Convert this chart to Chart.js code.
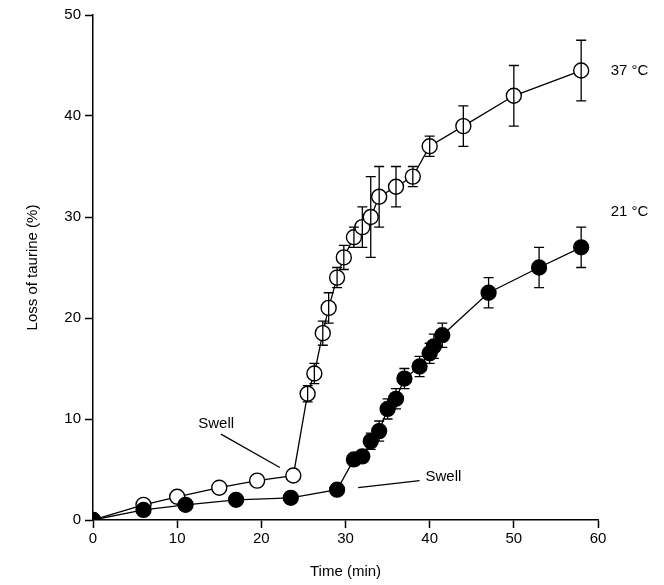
<!DOCTYPE html>
<html><head><meta charset="utf-8">
<script src="https://cdn.jsdelivr.net/npm/chart.js@4"></script>
<style>body{margin:0;background:#fff}#wrap{width:664px;height:585px}</style>
</head><body><div id="wrap"><canvas id="c" width="664" height="585"></canvas></div>
<script>
// data
const t37 = [0,6,10,15,19.5,23.8,25.5,26.3,27.3,28,29,29.8,31,32,33,34,36,38,40,44,50,58];
const v37 = [0,1.5,2.3,3.2,3.9,4.4,12.5,14.5,18.5,21,24,26,28,29,30,32,33,34,37,39,42,44.5];
const e37 = [0,0,0,0,0,0,0.8,1,1.2,1.5,1,1.2,1,2,4,3,2,1,1,2,3,3];
const t21 = [0,6,11,17,23.5,29,31,32,33,34,35,36,37,38.8,40,40.5,41.5,47,53,58];
const v21 = [0,1,1.5,2,2.2,3,6,6.3,7.8,8.8,11,12,14,15.2,16.5,17.2,18.3,22.5,25,27];
const e21 = [0,0,0,0,0,0,0,0,0.8,1,1,1,1,1,1,1.2,1.2,1.5,2,2];
const xTicks = [0,10,20,30,40,50,60];
const yTicks = [0,10,20,30,40,50];

const font = '"Liberation Sans", Arial, sans-serif';
const pts = (t,v) => t.map((x,i)=>({x, y:v[i]}));

const extras = {
  id:'extras',
  afterDatasetsDraw(chart){
    const {ctx, scales:{x,y}} = chart;
    ctx.save();
    ctx.strokeStyle='#000'; ctx.lineWidth=1.3;
    [[t37,v37,e37],[t21,v21,e21]].forEach(([t,v,e])=>{
      t.forEach((tt,i)=>{
        if(!e[i]) return;
        const px=x.getPixelForValue(tt), y1=y.getPixelForValue(v[i]+e[i]), y2=y.getPixelForValue(v[i]-e[i]);
        ctx.beginPath();
        ctx.moveTo(px,y1);ctx.lineTo(px,y2);
        ctx.moveTo(px-5,y1);ctx.lineTo(px+5,y1);
        ctx.moveTo(px-5,y2);ctx.lineTo(px+5,y2);
        ctx.stroke();
      });
    });
    // swell pointers
    ctx.beginPath();
    ctx.moveTo(x.getPixelForValue(15.2),y.getPixelForValue(8.5));
    ctx.lineTo(x.getPixelForValue(22.2),y.getPixelForValue(5.2));
    ctx.moveTo(x.getPixelForValue(31.5),y.getPixelForValue(3.2));
    ctx.lineTo(x.getPixelForValue(38.8),y.getPixelForValue(3.9));
    ctx.stroke();
    ctx.fillStyle='#000'; ctx.font='15px '+font; ctx.textBaseline='middle';
    ctx.fillText('Swell', x.getPixelForValue(12.5), y.getPixelForValue(9.5));
    ctx.fillText('Swell', x.getPixelForValue(39.5), y.getPixelForValue(4.3));
    ctx.fillText('37 °C', x.getPixelForValue(61.5), y.getPixelForValue(44.5));
    ctx.fillText('21 °C', x.getPixelForValue(61.5), y.getPixelForValue(30.5));
    ctx.restore();
  }
};

const gridOpts = {display:true, drawOnChartArea:false, drawTicks:true, tickLength:8, tickColor:'#000', tickWidth:1.5};

new Chart(document.getElementById('c'), {
  type:'scatter',
  data:{datasets:[
    {data:pts(t37,v37), showLine:true, borderColor:'#000', borderWidth:1.3, backgroundColor:'#fff', pointBorderColor:'#000', pointBorderWidth:1.4, pointRadius:7.5, order:2},
    {data:pts(t21,v21), showLine:true, borderColor:'#000', borderWidth:1.3, backgroundColor:'#000', pointBackgroundColor:'#000', pointRadius:7.5, order:1}
  ]},
  options:{
    responsive:false, animation:false,
    layout:{padding:{top:15,right:66,bottom:0,left:20}},
    plugins:{legend:{display:false},tooltip:{enabled:false}},
    scales:{
      x:{type:'linear',min:0,max:60,
        afterBuildTicks:s=>{s.ticks=xTicks.map(v=>({value:v}))},
        grid:gridOpts,
        border:{color:'#000',width:1.5},
        ticks:{color:'#000',font:{family:font,size:15},padding:2,maxRotation:0},
        title:{display:true,text:'Time (min)',color:'#000',font:{family:font,size:15},padding:{top:8}},
        afterFit:s=>{s.height=65}},
      y:{min:0,max:50,
        afterBuildTicks:s=>{s.ticks=yTicks.map(v=>({value:v}))},
        grid:gridOpts,
        border:{color:'#000',width:1.5},
        ticks:{color:'#000',font:{family:font,size:15},padding:4},
        title:{display:true,text:'Loss of taurine (%)',color:'#000',font:{family:font,size:15}},
        afterFit:s=>{s.width=73}}
    }
  },
  plugins:[extras]
});
</script></body></html>
